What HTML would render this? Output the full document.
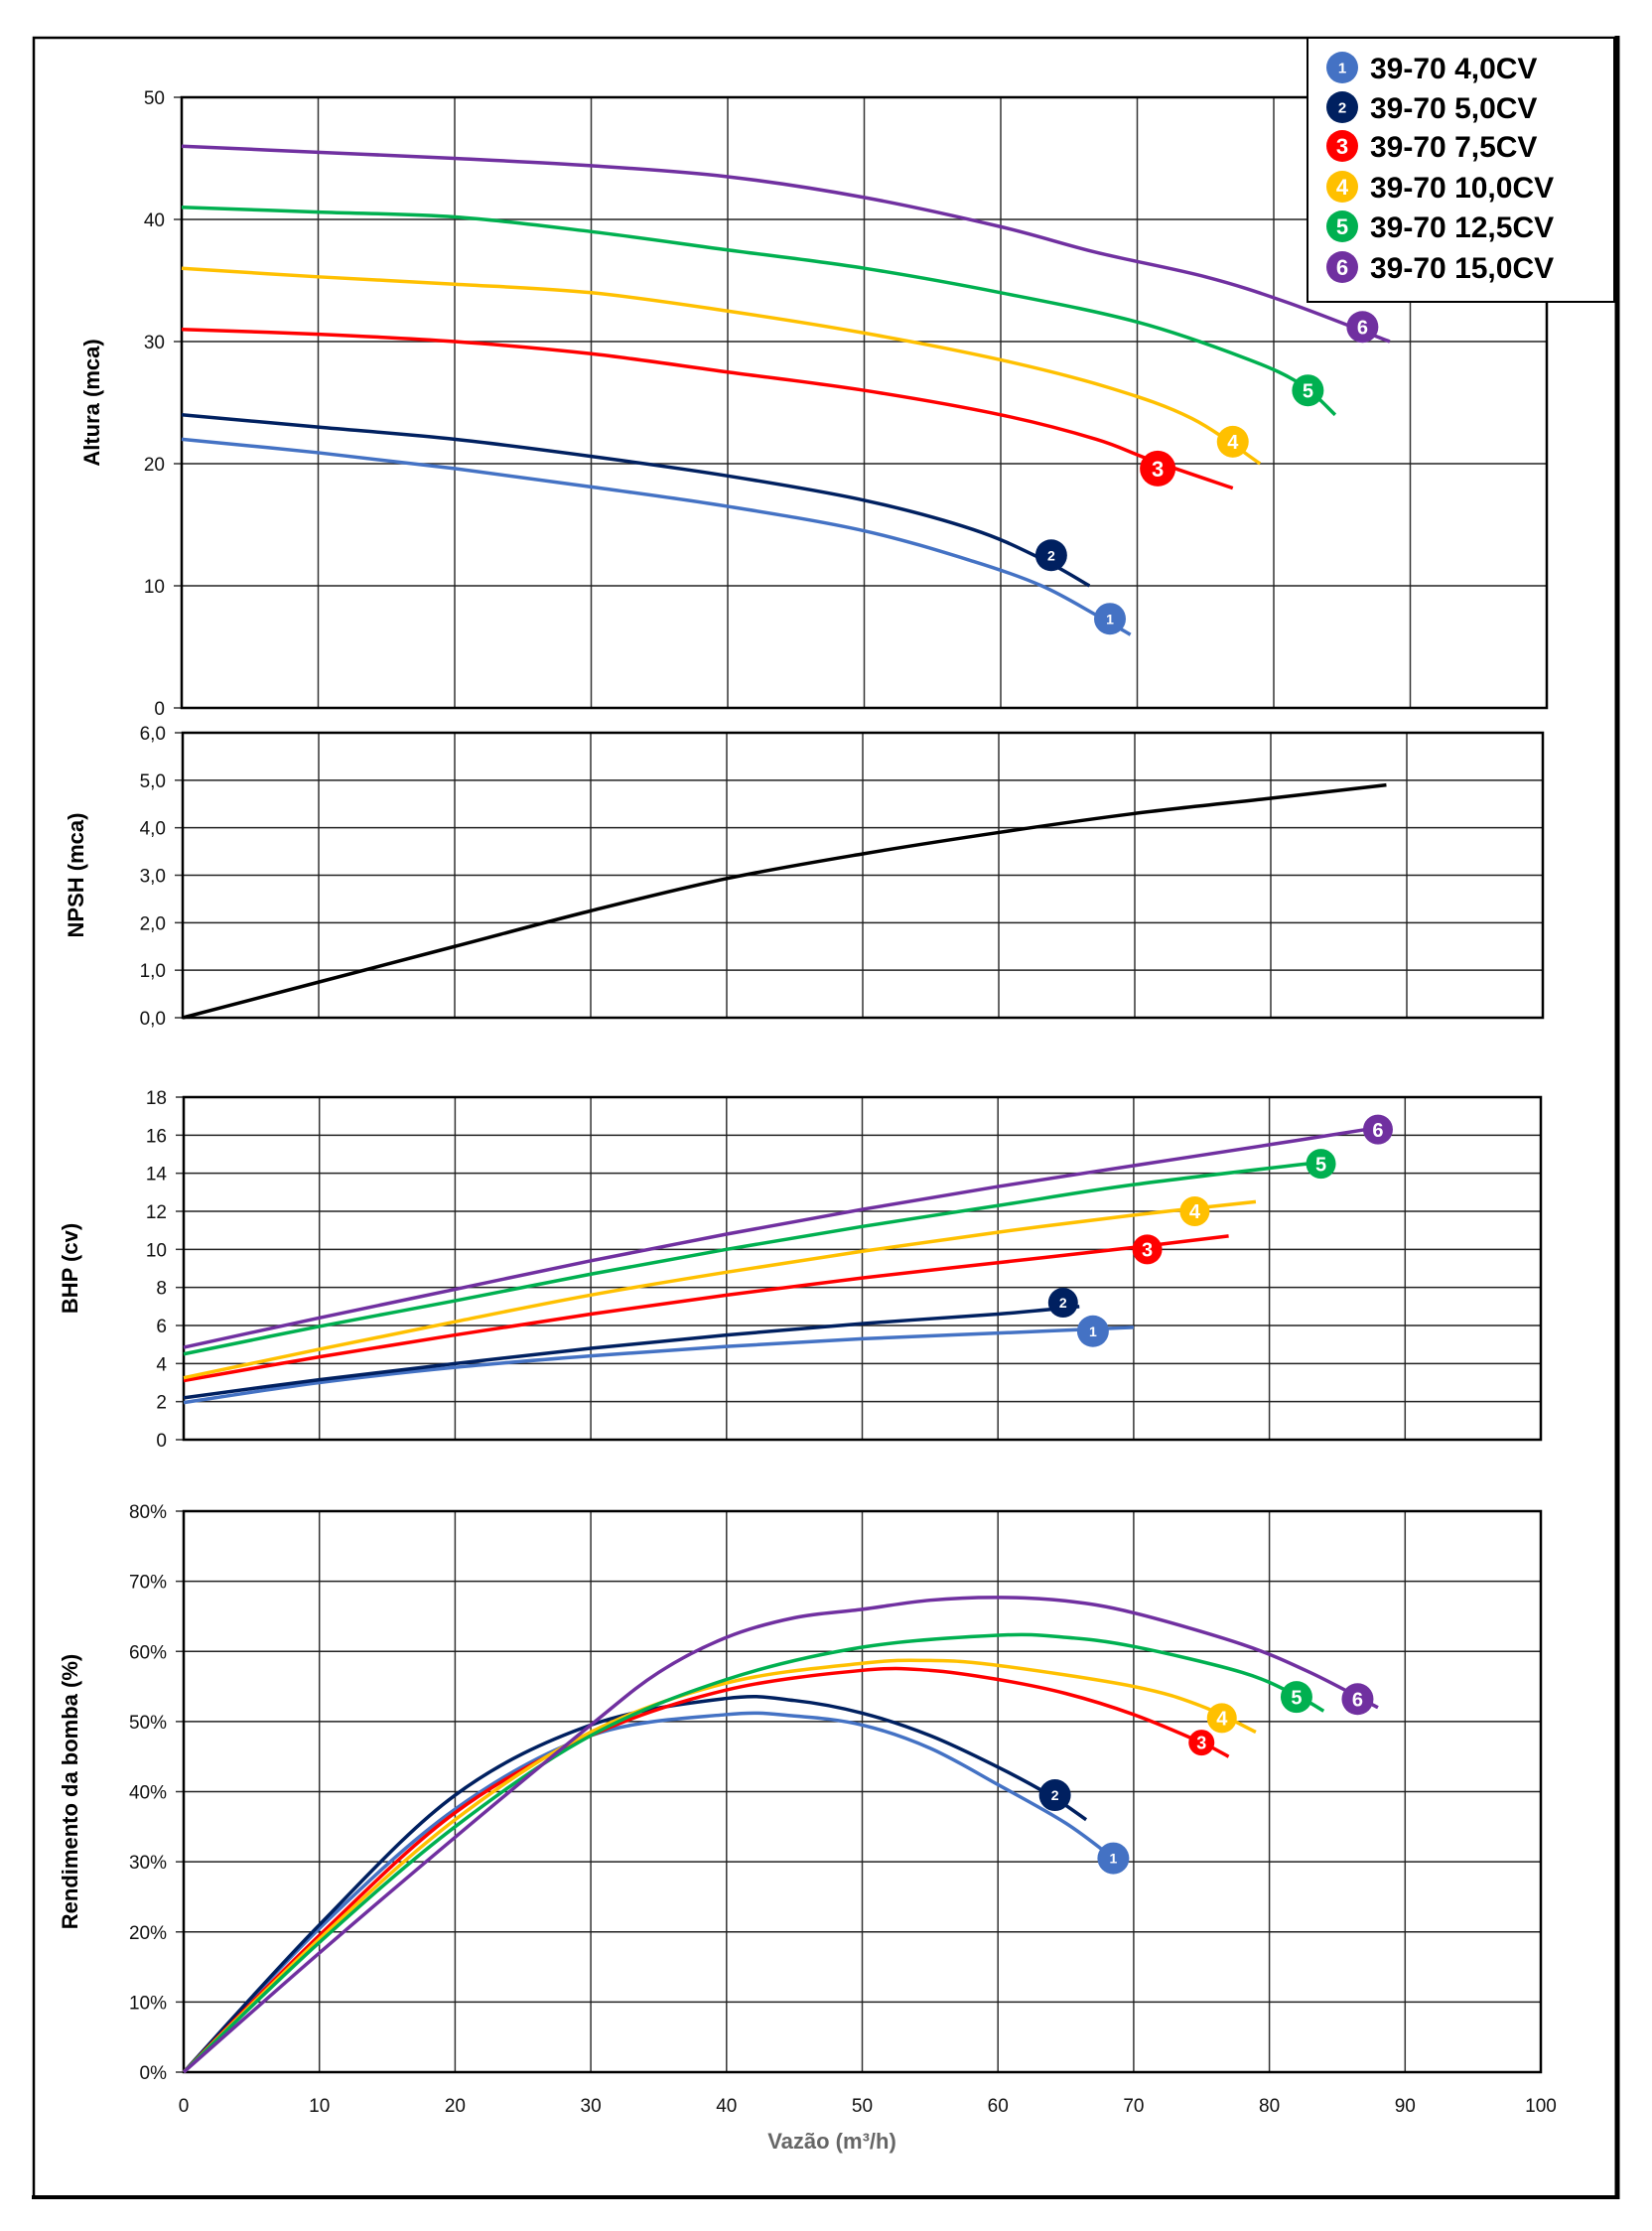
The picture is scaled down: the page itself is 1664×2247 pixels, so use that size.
<!DOCTYPE html>
<html><head><meta charset="utf-8"><style>
html,body{margin:0;padding:0;background:#fff;}
svg text{font-family:"Liberation Sans",sans-serif;}
</style></head><body>
<svg id="s" xmlns="http://www.w3.org/2000/svg" width="1664" height="2242" viewBox="0 0 1664 2242">
<rect x="0" y="0" width="1664" height="2242" fill="#fff"/>
<rect x="34" y="38" width="1595" height="2175" fill="none" stroke="#000" stroke-width="2.5"/>
<line x1="1629" y1="36" x2="1629" y2="2215" stroke="#000" stroke-width="5"/>
<line x1="32" y1="2213" x2="1631" y2="2213" stroke="#000" stroke-width="4"/>
</svg>
<script>
const S=document.getElementById('s');const NS='http://www.w3.org/2000/svg';
function el(t,a,txt){const e=document.createElementNS(NS,t);for(const k in a)e.setAttribute(k,a[k]);if(txt!==undefined)e.textContent=txt;S.appendChild(e);return e;}
const C=['#4472C4','#002060','#FF0000','#FFC000','#00B050','#7030A0'];
function chart(o){
 const X=v=>o.x0+(o.x1-o.x0)*v/100, Y=v=>o.y0+(o.y1-o.y0)*(v-o.ymin)/(o.ymax-o.ymin);
 for(let i=1;i<10;i++)el('line',{x1:X(i*10),y1:o.y1,x2:X(i*10),y2:o.y0,stroke:'#333','stroke-width':1.5});
 for(let v=o.ymin;v<=o.ymax+1e-9;v+=o.step){const y=Y(v);
  if(v>o.ymin&&v<o.ymax-1e-9)el('line',{x1:o.x0,y1:y,x2:o.x1,y2:y,stroke:'#222','stroke-width':1.5});
  el('line',{x1:o.x0-8,y1:y,x2:o.x0,y2:y,stroke:'#333','stroke-width':1.5});
  el('text',{x:o.x0-17,y:y+7,'font-size':19,'text-anchor':'end',fill:'#111'},o.fmt(v));}
 el('rect',{x:o.x0,y:o.y1,width:o.x1-o.x0,height:o.y0-o.y1,fill:'none',stroke:'#000','stroke-width':2.5});
 el('text',{transform:`translate(${o.lx},${(o.y0+o.y1)/2}) rotate(-90)`,'font-size':22,'font-weight':'bold','text-anchor':'middle',fill:'#000'},o.label);
 return {X,Y};
}
function path(m,pts,col,w){
 const P=pts.map(p=>[m.X(p[0]),m.Y(p[1])]);let d='M'+P[0][0]+','+P[0][1];
 for(let i=0;i<P.length-1;i++){const p0=P[Math.max(0,i-1)],p1=P[i],p2=P[i+1],p3=P[Math.min(P.length-1,i+2)];
  d+=` C${p1[0]+(p2[0]-p0[0])/6},${p1[1]+(p2[1]-p0[1])/6} ${p2[0]-(p3[0]-p1[0])/6},${p2[1]-(p3[1]-p1[1])/6} ${p2[0]},${p2[1]}`;}
 el('path',{d,fill:'none',stroke:col,'stroke-width':w||3.5,'stroke-linejoin':'round'});
}
function mark(cx,cy,n,r,fs){el('circle',{cx,cy,r,fill:C[n-1]});el('text',{x:cx,y:cy+fs*0.36,'font-size':fs,'font-weight':'bold','text-anchor':'middle',fill:'#fff'},String(n));}
function mk(m,x,y,n,r,fs){mark(m.X(x),m.Y(y),n,r||16,fs||20);}
const int=v=>String(v);const dec=v=>v.toFixed(1).replace('.',',');
// Top
let m=chart({x0:183,x1:1558,y0:713,y1:98,ymin:0,ymax:50,step:10,fmt:int,label:'Altura (mca)',lx:100});
const H=[
[[0,22],[10,20.9],[20,19.6],[30,18.1],[40,16.5],[50,14.5],[58,12],[63,10],[67,7.6],[69.5,6]],
[[0,24],[10,23],[20,22],[30,20.6],[40,19],[50,17],[58,14.6],[63,12.2],[66.5,10]],
[[0,31],[10,30.6],[20,30],[30,29],[40,27.5],[50,26],[60,24],[67,22],[71,20.3],[77,18]],
[[0,36],[10,35.3],[20,34.7],[30,34],[40,32.5],[50,30.7],[60,28.5],[68,26.2],[74,23.7],[79,20]],
[[0,41],[10,40.6],[20,40.2],[30,39],[40,37.5],[50,36],[60,34],[70,31.6],[78,28.6],[82,26.5],[84.5,24]],
[[0,46],[10,45.5],[20,45],[30,44.4],[40,43.5],[50,41.8],[60,39.4],[67,37.3],[75,35.3],[81,33.2],[88.5,30]]];
H.forEach((p,i)=>path(m,p,C[i]));
mk(m,68,7.3,1,16,14);mk(m,63.7,12.5,2,16,14);mk(m,71.5,19.6,3,18,22);mk(m,77,21.8,4,16,20);mk(m,82.5,26,5,16,20);mk(m,86.5,31.2,6,16,20);
// NPSH
m=chart({x0:184,x1:1554,y0:1025,y1:738,ymin:0,ymax:6,step:1,fmt:dec,label:'NPSH (mca)',lx:84});
path(m,[[0,0],[10,0.75],[20,1.5],[30,2.25],[40,2.93],[50,3.45],[60,3.9],[70,4.3],[80,4.62],[88.5,4.9]],'#000',3.5);
// BHP
m=chart({x0:185,x1:1552,y0:1450,y1:1105,ymin:0,ymax:18,step:2,fmt:int,label:'BHP (cv)',lx:78});
const B=[
[[0,1.95],[10,3.0],[20,3.8],[30,4.4],[40,4.9],[50,5.3],[60,5.6],[70,5.9]],
[[0,2.2],[10,3.15],[20,4.0],[30,4.8],[40,5.5],[50,6.1],[60,6.6],[66,7.0]],
[[0,3.1],[10,4.35],[20,5.5],[30,6.6],[40,7.6],[50,8.5],[60,9.3],[70,10.1],[77,10.7]],
[[0,3.25],[10,4.75],[20,6.2],[30,7.6],[40,8.8],[50,9.9],[60,10.9],[70,11.8],[79,12.5]],
[[0,4.5],[10,5.95],[20,7.3],[30,8.7],[40,10.0],[50,11.2],[60,12.3],[70,13.4],[84,14.6]],
[[0,4.85],[10,6.4],[20,7.9],[30,9.4],[40,10.8],[50,12.1],[60,13.3],[70,14.4],[80,15.5],[88,16.4]]];
B.forEach((p,i)=>path(m,p,C[i]));
mk(m,67,5.7,1,16,14);mk(m,64.8,7.2,2,15,14);mk(m,71,10.0,3,15,20);mk(m,74.5,12.0,4,15,20);mk(m,83.8,14.5,5,15,20);mk(m,88,16.3,6,15,20);
// Eff
m=chart({x0:185,x1:1552,y0:2087,y1:1522,ymin:0,ymax:80,step:10,fmt:v=>v+'%',label:'Rendimento da bomba (%)',lx:78});
const E=[
[[0,0],[10,20.5],[20,37.5],[30,48],[40,51],[45,50.8],[50,49.5],[55,46.2],[60,41],[65,35.5],[68.5,30.5]],
[[0,0],[10,21],[20,39.5],[30,49.5],[40,53.3],[45,53],[50,51.2],[55,48],[60,43.5],[64,39.3],[66.5,36]],
[[0,0],[10,19.5],[20,37],[30,48],[40,54.5],[50,57.3],[55,57.3],[60,56],[65,54],[70,51],[75,47],[77,45]],
[[0,0],[10,19],[20,36],[30,48.5],[40,55.5],[50,58.3],[55,58.7],[60,58],[70,55],[75,52.2],[79,48.5]],
[[0,0],[10,18.5],[20,35],[30,48],[40,56],[50,60.6],[60,62.3],[65,62],[70,60.7],[78,57],[82,53.7],[84,51.5]],
[[0,0],[10,17],[20,33.5],[30,49.5],[35,57],[40,62],[45,64.8],[50,66],[55,67.3],[60,67.7],[65,67.2],[70,65.5],[78,61],[83,57],[88,52]]];
E.forEach((p,i)=>path(m,p,C[i]));
mk(m,68.5,30.5,1,16,14);mk(m,64.2,39.5,2,16,14);mk(m,75,47,3,13,18);mk(m,76.5,50.5,4,15,20);mk(m,82,53.5,5,16,20);mk(m,86.5,53.2,6,16,20);
for(let i=0;i<=10;i++)el('text',{x:m.X(i*10),y:2127,'font-size':19,'text-anchor':'middle',fill:'#111'},String(i*10));
el('text',{x:838,y:2164,'font-size':22,'font-weight':'bold','text-anchor':'middle',fill:'#666'},'Vazão (m³/h)');
// Legend
el('rect',{x:1317,y:38,width:309,height:266,fill:'#fff',stroke:'#000','stroke-width':2});
const L=['39-70 4,0CV','39-70 5,0CV','39-70 7,5CV','39-70 10,0CV','39-70 12,5CV','39-70 15,0CV'];
const LY=[68,108,147,188,228,269];
L.forEach((t,i)=>{mark(1352,LY[i],i+1,16,i<2?15:22);el('text',{x:1380,y:LY[i]+11,'font-size':30,'font-weight':'bold',fill:'#000'},t);});
</script>
</body></html>
